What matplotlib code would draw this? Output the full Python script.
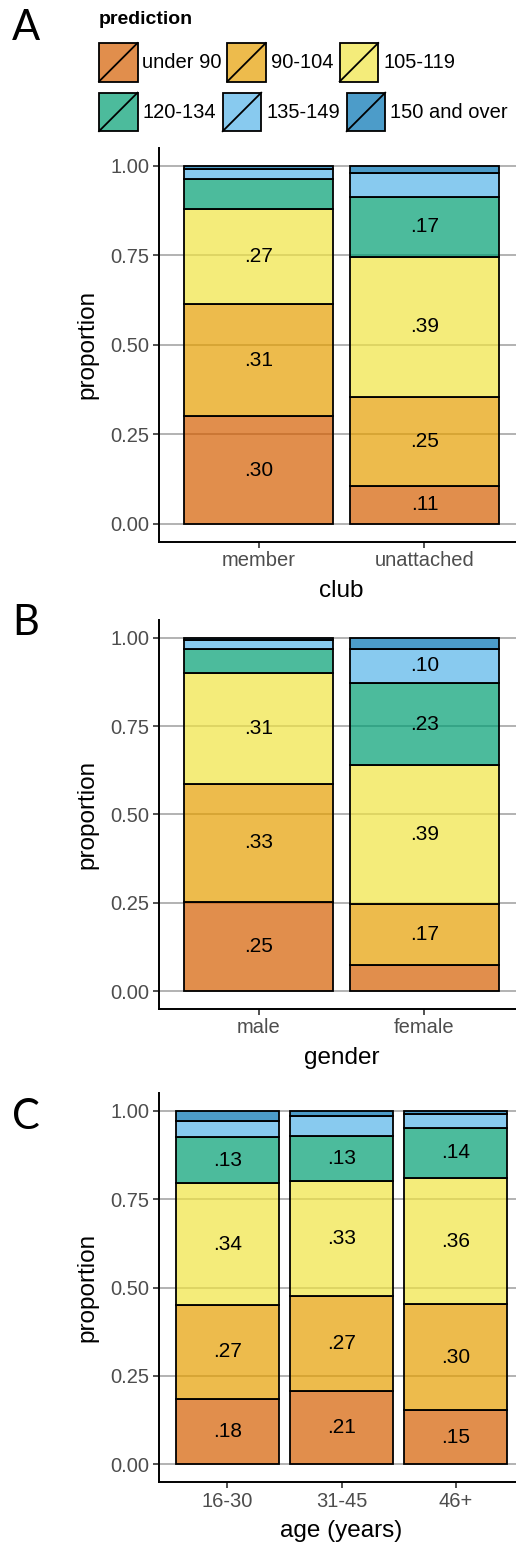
import matplotlib
matplotlib.use("Agg")
import matplotlib.pyplot as plt
from matplotlib.patches import Rectangle
from matplotlib.lines import Line2D
from matplotlib.colors import to_rgba
import numpy as np

plt.rcParams['font.family'] = ['Liberation Sans', 'DejaVu Sans']

# ---------------- data ----------------
categories = ["under 90", "90-104", "105-119", "120-134", "135-149", "150 and over"]
cat_colors = ["#D55E00", "#E69F00", "#F0E442", "#009E73", "#56B4E9", "#0072B2"]
fill_alpha = 0.7

club_groups = ["member", "unattached"]
club_member = [0.300, 0.313, 0.266, 0.083, 0.029, 0.009]
club_unattached = [0.106, 0.249, 0.391, 0.166, 0.068, 0.020]

gender_groups = ["male", "female"]
gender_male = [0.252, 0.334, 0.314, 0.068, 0.026, 0.006]
gender_female = [0.074, 0.173, 0.392, 0.233, 0.096, 0.032]

age_groups = ["16-30", "31-45", "46+"]
age_16_30 = [0.184, 0.268, 0.343, 0.130, 0.046, 0.029]
age_31_45 = [0.208, 0.267, 0.327, 0.127, 0.056, 0.015]
age_46_plus = [0.153, 0.300, 0.358, 0.141, 0.040, 0.008]

y_ticks = [0.0, 0.25, 0.5, 0.75, 1.0]
y_ticklabels = ["0.00", "0.25", "0.50", "0.75", "1.00"]
label_min = 0.095

panels = [
    ("A", club_groups, [club_member, club_unattached], "club", (147.8, 541.6)),
    ("B", gender_groups, [gender_male, gender_female], "gender", (620.0, 1008.7)),
    ("C", age_groups, [age_16_30, age_31_45, age_46_plus], "age (years)", (1093.3, 1482.0)),
]
letter_baselines = [40, 635, 1129]

# ---------------- figure ----------------
W, H = 516, 1544
fig = plt.figure(figsize=(W / 100, H / 100), dpi=100)
fig.patch.set_facecolor("white")

ax_left_px, ax_right_px = 159.0, 524.0
fills = [to_rgba(c, fill_alpha) for c in cat_colors]

for (letter, groups, rows, xlabel, (top_px, bot_px)), lb in zip(panels, letter_baselines):
    ax = fig.add_axes([ax_left_px / W, 1 - bot_px / H,
                       (ax_right_px - ax_left_px) / W, (bot_px - top_px) / H])
    vals = np.array(rows)
    x = np.arange(1, len(groups) + 1)
    bottom = np.zeros(len(groups))
    for i in range(len(categories)):
        ax.bar(x, vals[:, i], bottom=bottom, width=0.9, color=fills[i],
               edgecolor="black", linewidth=1.3, zorder=3)
        for xi, b, v in zip(x, bottom, vals[:, i]):
            if v >= label_min:
                ax.text(xi, b + v / 2, "." + f"{int(round(v * 100)):02d}",
                        ha="center", va="center", fontsize=15, color="black", zorder=4)
        bottom = bottom + vals[:, i]

    ax.set_xlim(0.4, len(groups) + 0.6)
    ax.set_ylim(-0.05, 1.05)
    ax.set_xticks(x)
    ax.set_xticklabels(groups)
    ax.set_yticks(y_ticks)
    ax.set_yticklabels(y_ticklabels)
    ax.yaxis.grid(True, color="#9E9E9E", linewidth=1.1, zorder=1)
    ax.set_axisbelow(True)
    for s in ["top", "right"]:
        ax.spines[s].set_visible(False)
    for s in ["left", "bottom"]:
        ax.spines[s].set_linewidth(1.4)
        ax.spines[s].set_color("black")
    ax.tick_params(axis="both", length=4, width=1.2, color="#333333",
                   labelsize=14.5, labelcolor="#4D4D4D", pad=3)
    ax.set_ylabel("proportion", fontsize=17.5, color="black")
    ax.yaxis.set_label_coords((98 - ax_left_px) / (ax_right_px - ax_left_px), 0.5)
    ax.set_xlabel(xlabel, fontsize=17.5, color="black")
    ax.xaxis.set_label_coords(0.5, -(38.0) / (bot_px - top_px))

    fig.text(12 / W, 1 - lb / H, letter, fontsize=30, family=["Lato", "DejaVu Sans"],
             ha="left", va="baseline", color="black")

# ---------------- legend ----------------
leg_h = 140
lax = fig.add_axes([0, 1 - leg_h / H, 1, leg_h / H])
lax.set_xlim(0, W)
lax.set_ylim(leg_h, 0)
lax.axis("off")
lax.text(99, 19.5, "prediction", fontsize=14, fontweight="bold", ha="left", va="center")

key_size = 38.5
key_x = [99, 227.3, 339.7, 99, 222.7, 346.7]
key_y = [43, 43, 43, 92.7, 92.7, 92.7]
for i, cat in enumerate(categories):
    kx, ky = key_x[i], key_y[i]
    lax.add_patch(Rectangle((kx, ky), key_size, key_size, facecolor=fills[i],
                            edgecolor="black", linewidth=1.3))
    lax.add_line(Line2D([kx, kx + key_size], [ky + key_size, ky], color="black", linewidth=1.3))
    lax.text(kx + key_size + 5, ky + key_size / 2 + 0.5, cat, fontsize=14.5,
             ha="left", va="center", color="black")

fig.savefig("out.png", dpi=100, facecolor="white")
